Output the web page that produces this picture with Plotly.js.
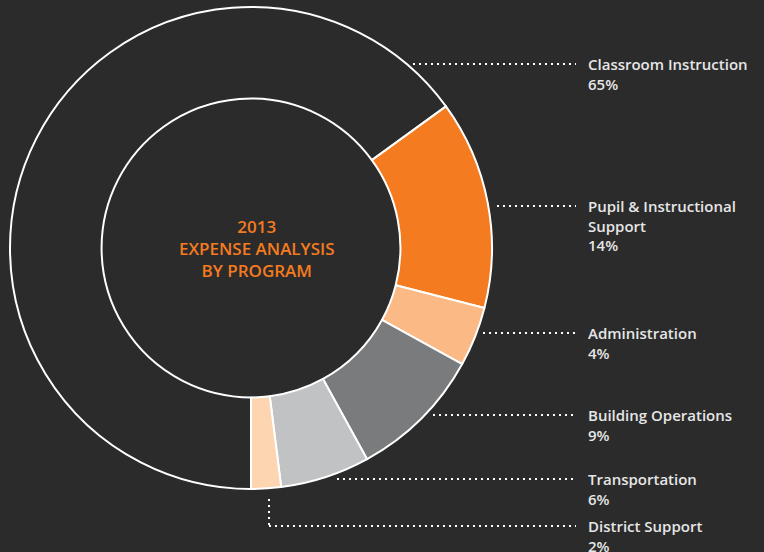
<!DOCTYPE html>
<html>
<head>
<meta charset="utf-8">
<script src="https://cdn.plot.ly/plotly-3.0.1.min.js"></script>
<style>
html,body{margin:0;padding:0;background:#2b2b2b;}
#chart{width:764px;height:552px;}
</style>
</head>
<body>
<div id="chart"></div>
<script>
// ---- data ----
var categories = ["Classroom Instruction", "Pupil & Instructional<br>Support", "Administration", "Building Operations", "Transportation", "District Support"];
var values = [65, 14, 4, 9, 6, 2];
var valueLabels = ["65%", "14%", "4%", "9%", "6%", "2%"];
var centerTitle = ["2013", "EXPENSE ANALYSIS", "BY PROGRAM"];

// ---- styling ----
var sliceColors = ["rgba(0,0,0,0)", "#f47b20", "#fbb985", "#7a7b7c", "#c1c2c4", "#fdd5b1"];
var W = 764, H = 552;
function px(x){ return x / W; }
function py(y){ return 1 - y / H; }

// label block positions (pixels, first-line centre) and leader line geometry
var labelY = [64, 206, 333, 415, 479, 526];
var leaderStartX = [413, 497, 483, 433, 337, 269];
var leaderEndX = 576;

var cx = 251, cy = 248, R = 241;

var shapes = [];
var annotations = [];
for (var i = 0; i < categories.length; i++) {
  var ly = labelY[i];
  if (i === categories.length - 1) {
    shapes.push({type:"line", xref:"paper", yref:"paper", x0:px(leaderStartX[i]), y0:py(499), x1:px(leaderStartX[i]), y1:py(ly),
      line:{color:"#ffffff", width:2, dash:"2px,4px"}});
  }
  shapes.push({type:"line", xref:"paper", yref:"paper", x0:px(leaderStartX[i]), y0:py(ly), x1:px(leaderEndX), y1:py(ly),
    line:{color:"#ffffff", width:2, dash:"2px,4px"}});
  annotations.push({
    xref:"paper", yref:"paper", x:px(586), y:py(ly - 12), xanchor:"left", yanchor:"top", align:"left",
    showarrow:false, text: categories[i] + "<br>" + valueLabels[i],
    font:{family:"Open Sans, sans-serif", size:15, color:"#e6e6e6", weight:600}
  });
}
annotations.push({
  xref:"paper", yref:"paper", x:px(257), y:py(248), xanchor:"center", yanchor:"middle", align:"center",
  showarrow:false, text: centerTitle.join("<br>"),
  font:{family:"Open Sans, sans-serif", size:17, color:"#f47b20", weight:600}
});

var trace = {
  type:"pie",
  labels: categories,
  values: values,
  sort:false,
  direction:"clockwise",
  rotation:180,
  hole:0.62,
  textinfo:"none",
  hoverinfo:"label+percent",
  marker:{colors:sliceColors, line:{color:"#ffffff", width:2}},
  domain:{x:[px(cx - R), px(cx + R)], y:[py(cy + R), py(cy - R)]},
  showlegend:false
};

var layout = {
  width:W, height:H,
  margin:{l:0, r:0, t:0, b:0},
  paper_bgcolor:"#2b2b2b",
  plot_bgcolor:"#2b2b2b",
  shapes:shapes,
  annotations:annotations,
  showlegend:false
};

Plotly.newPlot("chart", [trace], layout, {displayModeBar:false, staticPlot:true});
</script>
</body>
</html>
